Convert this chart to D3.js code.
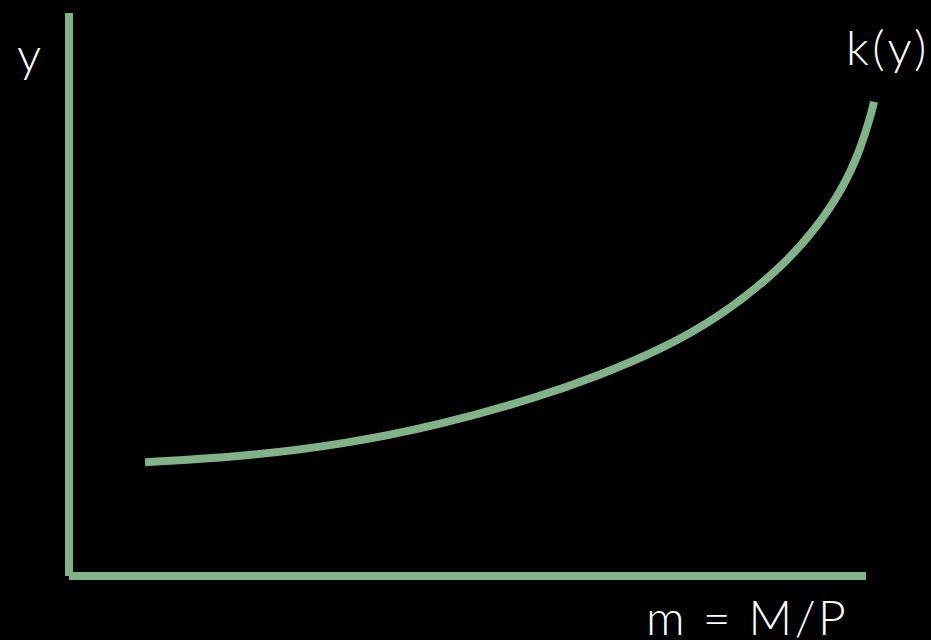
<!DOCTYPE html>
<html>
<head>
<meta charset="utf-8">
<script src="https://cdn.jsdelivr.net/npm/d3@7"></script>
<style>
  html, body { margin: 0; padding: 0; background: #000; }
  svg { display: block; }
  .lbl { fill: #fff; font-family: "Lato", "Open Sans", sans-serif; font-weight: 300; font-size: 48px; letter-spacing: 2.5px; }
</style>
</head>
<body>
<div id="chart"></div>
<script>
// curve, in axis units (0..100 on both axes)
const mValues = [9.54, 21.46, 34.0, 46.55, 59.1, 66.62, 74.15, 81.68, 89.21, 93.6, 97.0, 99.3, 100.79, 101.0];
const yValues = [20.2, 21.19, 23.27, 26.82, 31.85, 35.7, 40.14, 46.0, 54.53, 61.46, 68.56, 75.67, 82.77, 84.25];
const axisLabels = ["y", "m = M/P", "k(y)"];

const width = 931, height = 640;
const green = "#82b28a";

const svg = d3.select('#chart').append('svg')
  .attr('width', width)
  .attr('height', height)
  .style('background', '#000');

const x = d3.scaleLinear().domain([0, 100]).range([69, 866]);
const y = d3.scaleLinear().domain([0, 100]).range([576, 13]);

// axes as plain lines
svg.append('line')
  .attr('x1', x(0)).attr('x2', x(0))
  .attr('y1', y(100)).attr('y2', y(0))
  .attr('stroke', green).attr('stroke-width', 8);

svg.append('line')
  .attr('x1', x(0)).attr('x2', x(100))
  .attr('y1', y(0)).attr('y2', y(0))
  .attr('stroke', green).attr('stroke-width', 8);

const pts = mValues.map((m, i) => [m, yValues[i]]);

const line = d3.line()
  .x(d => x(d[0]))
  .y(d => y(d[1]))
  .curve(d3.curveBasis);

svg.append('path')
  .datum(pts)
  .attr('d', line)
  .attr('fill', 'none')
  .attr('stroke', green)
  .attr('stroke-width', 8);

// labels
svg.append('text').attr('class', 'lbl')
  .attr('x', 17).attr('y', 72)
  .style('letter-spacing', '0px')
  .text(axisLabels[0]);

svg.append('text').attr('class', 'lbl')
  .attr('x', 646).attr('y', 635)
  .text(axisLabels[1]);

svg.append('text').attr('class', 'lbl')
  .attr('x', 846).attr('y', 65)
  .style('letter-spacing', '3.5px')
  .text(axisLabels[2]);
</script>
</body>
</html>
